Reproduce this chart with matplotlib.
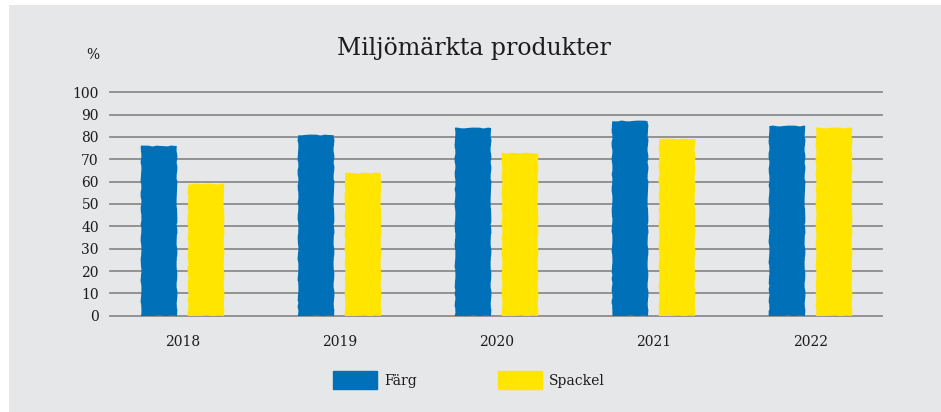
import numpy as np
import matplotlib
matplotlib.use("Agg")
import matplotlib.pyplot as plt
import matplotlib.patches as mpatches

years = ['2018', '2019', '2020', '2021', '2022']
farg = [76, 81, 84, 87, 85]
spackel = [59, 64, 73, 79, 84]
yticks = [0, 10, 20, 30, 40, 50, 60, 70, 80, 90, 100]

BG = '#e6e7e9'
BLUE = '#0071b9'
YELLOW = '#ffe500'
GRID = '#8c8c8c'
TXT = '#1e1b1c'

plt.rcParams['font.family'] = ['DejaVu Serif']

fig = plt.figure(figsize=(9.41, 4.12), dpi=100)
fig.patch.set_facecolor('white')
# grå bakgrund med smal vit kant upptill/vänster
fig.patches.append(mpatches.Rectangle((9 / 941, 0), 1, 1 - 5 / 412,
                                      transform=fig.transFigure,
                                      facecolor=BG, edgecolor='none', zorder=-10))

ax = fig.add_axes([110 / 941, 1 - 315.7 / 412, 772 / 941, 223.4 / 412])
ax.set_facecolor('none')

x = np.arange(len(years))
w = 0.229
off = 0.15
b1 = ax.bar(x - off, farg, w, color=BLUE, zorder=3)
b2 = ax.bar(x + off, spackel, w, color=YELLOW, zorder=3)
# lätt ojämna kanter
for p in list(b1) + list(b2):
    p.set_sketch_params(scale=0.4, length=40, randomness=10)

ax.set_xlim(-72.5 / 157, 4 + 71.5 / 157)
ax.set_ylim(0, 100)
ax.set_yticks(yticks)
ax.set_xticks(x)
ax.set_xticklabels(years)
for yv in yticks:
    ax.axhline(yv, color=GRID, linewidth=1.3, zorder=1, clip_on=False)
for s in ax.spines.values():
    s.set_visible(False)
ax.tick_params(axis='both', length=0, labelsize=10, colors=TXT)
ax.tick_params(axis='y', pad=8)
ax.tick_params(axis='x', pad=14)

fig.text(474 / 941, 1 - 48 / 412, 'Miljömärkta produkter', ha='center', va='center',
         fontsize=17, color=TXT)
fig.text(93 / 941, 1 - 55 / 412, '%', ha='center', va='center', fontsize=10, color=TXT)

handles = [mpatches.Patch(color=BLUE, label='Färg'),
           mpatches.Patch(color=YELLOW, label='Spackel')]
fig.legend(handles=handles, loc='center', bbox_to_anchor=(469 / 941, 1 - 380 / 412),
           ncol=2, frameon=False, fontsize=10, handlelength=3.2, handleheight=1.7,
           handletextpad=0.5, columnspacing=5.8, labelcolor=TXT)

fig.savefig('out.png', dpi=100, facecolor=fig.get_facecolor())
